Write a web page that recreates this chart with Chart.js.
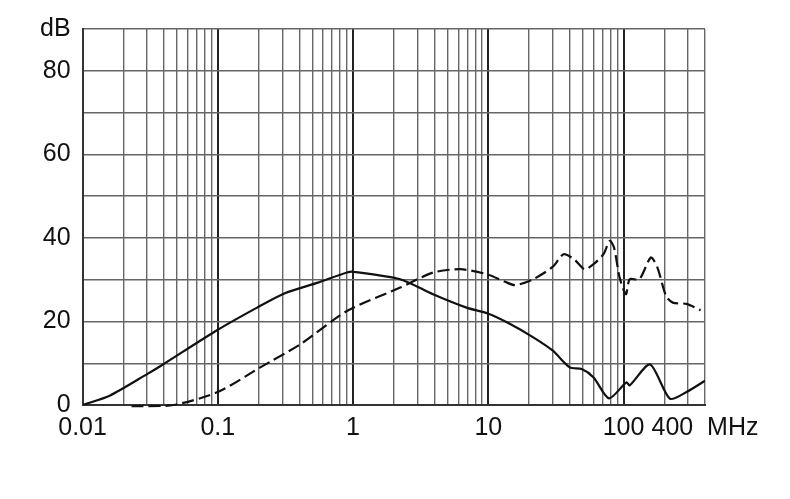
<!DOCTYPE html>
<html>
<head>
<meta charset="utf-8">
<script src="https://cdn.jsdelivr.net/npm/chart.js@4.4.1/dist/chart.umd.min.js"></script>
<style>
  html, body { margin: 0; padding: 0; background: #fff; }
  #wrap { width: 790px; height: 499px; }
</style>
</head>
<body>
<div id="wrap"><canvas id="chAtt"></canvas></div>
<script>
// solid curve
var solidFreq = [0.01, 0.016, 0.03, 0.038, 0.1, 0.195, 0.31, 0.55, 0.9, 1.0, 2.23, 3.9, 6.9, 9.9, 14.5, 21.5, 30, 40, 49, 60, 78, 105, 111, 157, 220, 292, 400];
var solidDb   = [0, 2.3, 7.4, 9.4, 18, 23.3, 26.7, 29.3, 31.7, 31.9, 30.1, 26.5, 23.3, 21.9, 19.4, 16.2, 13.0, 9.0, 8.6, 6.6, 1.6, 5.4, 4.7, 9.7, 1.5, 3.1, 5.8];

// dashed curve
var dashFreq = [0.023, 0.047, 0.1, 0.206, 0.41, 0.9, 2.23, 3.9, 6.2, 9.8, 13.3, 15.8, 21.5, 30, 36, 43, 51.5, 60, 71, 79, 85, 93.5, 104, 111, 131, 159, 178, 206, 231, 292, 371];
var dashDb   = [-0.3, 0, 3.1, 9.0, 14.6, 22.5, 28.1, 31.7, 32.5, 31.3, 29.5, 28.7, 30.1, 33.1, 36.1, 34.9, 32.5, 33.7, 36.1, 39.3, 37.7, 30.5, 26.5, 30.1, 30.1, 35.3, 32.9, 26.1, 24.5, 24.2, 22.7];

// axis ticks
var gridFreq = [0.01, 0.02, 0.03, 0.04, 0.05, 0.06, 0.07, 0.08, 0.09,
                0.1, 0.2, 0.3, 0.4, 0.5, 0.6, 0.7, 0.8, 0.9,
                1, 2, 3, 4, 5, 6, 7, 8, 9,
                10, 20, 30, 40, 50, 60, 70, 80, 90,
                100, 200, 300, 400];
var xLabelValues = [0.01, 0.1, 1, 10, 100, 400];
var xLabelText   = ['0.01', '0.1', '1', '10', '100', '400  MHz'];
var yLabelValues = [0, 20, 40, 60, 80, 90];
var yLabelText   = ['0', '20', '40', '60', '80', 'dB'];

function toPoints(xs, ys) {
    return xs.map(function (x, i) { return { x: x, y: ys[i] }; });
}

function isDecade(v) {
    var l = Math.log10(v);
    return Math.abs(l - Math.round(l)) < 1e-6;
}

function lookup(v, values, texts) {
    for (var i = 0; i < values.length; i++) {
        if (Math.abs(values[i] - v) < 1e-9 * Math.max(1, values[i])) return texts[i];
    }
    return '';
}

var fontSpec = { family: "'Liberation Sans', Arial, sans-serif", size: 25 };

new Chart(document.getElementById('chAtt'), {
    type: 'line',
    data: {
        datasets: [{
            data: toPoints(solidFreq, solidDb),
            borderColor: '#111',
            borderWidth: 2.2,
            pointRadius: 0,
            tension: 0.25,
            fill: false
        }, {
            data: toPoints(dashFreq, dashDb),
            borderColor: '#111',
            borderWidth: 2.2,
            borderDash: [12, 5],
            pointRadius: 0,
            tension: 0.25,
            fill: false,
            clip: 4
        }]
    },
    options: {
        responsive: true,
        maintainAspectRatio: false,
        animation: false,
        layout: { padding: { left: 28, right: 85, top: 29, bottom: 48 } },
        plugins: { legend: { display: false }, tooltip: { enabled: false } },
        scales: {
            x: {
                type: 'logarithmic',
                min: 0.01,
                max: 400,
                afterBuildTicks: function (scale) {
                    scale.ticks = gridFreq.map(function (v) { return { value: v }; });
                },
                ticks: {
                    autoSkip: false,
                    maxRotation: 0,
                    padding: 8,
                    color: '#111',
                    font: fontSpec,
                    callback: function (value) { return lookup(value, xLabelValues, xLabelText); }
                },
                grid: {
                    drawTicks: false,
                    color: function (ctx) { return isDecade(ctx.tick.value) ? '#222' : '#666'; },
                    lineWidth: function (ctx) { return isDecade(ctx.tick.value) ? 2 : 1.4; }
                },
                border: { color: '#333', width: 2 }
            },
            y: {
                min: 0,
                max: 90,
                ticks: {
                    stepSize: 10,
                    padding: 12,
                    color: '#111',
                    font: fontSpec,
                    callback: function (value) { return lookup(value, yLabelValues, yLabelText); }
                },
                grid: { drawTicks: false, color: '#666', lineWidth: 1.4 },
                border: { color: '#333', width: 2 }
            }
        }
    }
});
</script>
</body>
</html>
